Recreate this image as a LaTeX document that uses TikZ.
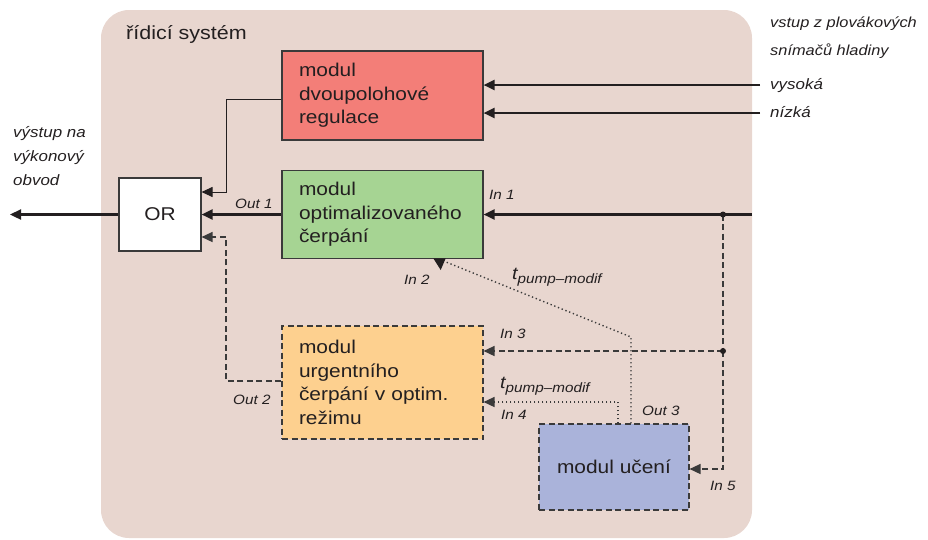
\documentclass[tikz,border=0pt]{standalone}
\usepackage{fontspec}
\setmainfont{Liberation Sans}[FakeStretch=1.13]
\usetikzlibrary{arrows.meta}

\definecolor{bgpanel}{HTML}{E8D6CF}
\definecolor{redmod}{HTML}{F37E78}
\definecolor{greenmod}{HTML}{A6D493}
\definecolor{orangemod}{HTML}{FDD08F}
\definecolor{bluemod}{HTML}{AAB3DA}
\definecolor{edge}{HTML}{3A3A3A}
\definecolor{ink}{HTML}{231F20}

\tikzset{
  modbox/.style={draw=edge, line width=1.1pt, minimum width=201pt, text width=167pt,
    inner xsep=17pt, inner ysep=0pt, align=left, text=ink,
    font=\fontsize{18.5}{23.5}\selectfont},
  dashbox/.style={dash pattern=on 6pt off 3.5pt},
  tipA/.tip={Triangle[length=11pt,width=10pt]},
  sigthick/.style={draw=ink, line width=2.3pt, -tipA},
  sigthin/.style={draw=ink, line width=1pt, -tipA},
  sigdash/.style={draw=edge, line width=1.4pt, dash pattern=on 6pt off 3.5pt, -tipA},
  sigdot/.style={draw=edge, line width=1.4pt, dash pattern=on 1.3pt off 2.7pt},
  lbl/.style={anchor=base west, inner sep=0pt, text=ink, font=\fontsize{13.5}{15}\selectfont\itshape},
  side/.style={anchor=base west, inner sep=0pt, text=ink, font=\fontsize{15}{18}\selectfont\itshape},
  junction/.style={circle, fill=ink, inner sep=0pt, minimum size=6pt},
}

\newcommand{\tpm}{{\fontsize{17.5}{17}\selectfont\itshape t}\raisebox{-4pt}{\fontsize{13.5}{13}\selectfont\itshape pump–modif}}

\begin{document}
\begin{tikzpicture}[x=1pt, y=-1pt]
  \useasboundingbox (0,0) rectangle (928,539);

  % panel of the control system
  \fill[bgpanel, rounded corners=28pt] (101,10) rectangle (752,538);
  \node[anchor=base west, inner sep=0pt, text=ink, font=\fontsize{19}{22}\selectfont]
    (title) at (126,39) {řídicí systém};

  % modules
  \node[modbox, fill=redmod, minimum height=89pt] (red) at (382.5,95.5)
    {modul\\dvoupolohové\\regulace};
  \node[modbox, fill=greenmod, minimum height=88pt] (green) at (382.5,214.5)
    {modul\\optimalizovaného\\čerpání};
  \node[modbox, dashbox, fill=orangemod, minimum height=113pt] (orange) at (382.5,382.5)
    {modul\\urgentního\\čerpání v optim.\\režimu};
  \node[draw=edge, line width=1.1pt, dashbox, fill=bluemod, minimum width=150pt,
    minimum height=86pt, text=ink, font=\fontsize{18.5}{23.5}\selectfont] (learn) at (614,467)
    {modul učení};
  \node[draw=edge, line width=1.1pt, fill=white, minimum width=82pt, minimum height=73pt,
    text=ink, font=\fontsize{18.5}{22}\selectfont] (or) at (160,214.5) {OR};

  % free ends and bends
  \coordinate (outL) at (10,214.5);
  \coordinate (hiR) at (760,85);
  \coordinate (loR) at (760,113);
  \coordinate (in1R) at (752,214.5);
  \coordinate (j1) at (723,214.5);
  \coordinate (j2) at (723,351);
  \coordinate (j3) at (723,469);
  \coordinate (rbend) at (226,99);
  \coordinate (obend) at (226,381);
  \coordinate (d1) at (631,337);
  \coordinate (d2) at (618,402);
  \coordinate (in2) at (446,262);

  % output of the system
  \draw[sigthick] (or.west) -- (outL);
  % level sensor inputs
  \draw[sigthick] (hiR) -- ([yshift=10.5pt]red.east);
  \draw[sigthick] (loR) -- ([yshift=-17.5pt]red.east);
  \draw[sigthick] (in1R) -- (green.east);
  % module outputs into OR
  \draw[sigthin] ([yshift=-3.5pt]red.west) -- (rbend) |- ([yshift=22.5pt]or.east);
  \draw[sigthick] (green.west) -- (or.east);
  \draw[sigdash] ([yshift=1.5pt]orange.west) -- (obend) |- ([yshift=-22.5pt]or.east);
  % branches of the sensor signal
  \draw[edge, line width=1.4pt, dash pattern=on 6pt off 3.5pt] (j1) -- (j2);
  \draw[sigdash] (j2) -- ([yshift=31.5pt]orange.east);
  \draw[sigdash] (j2) -- (j3) -- ([yshift=-2pt]learn.east);
  \node[junction] (dot1) at (j1) {};
  \node[junction] (dot2) at (j2) {};
  % learned pump time
  \draw[sigdot] ([xshift=17pt]learn.north) -- (d1) -- (in2);
  \fill[ink] (433.3,258.3) -- (445.7,258.3) -- (440.7,270) -- cycle;
  \draw[sigdot, -tipA] ([xshift=4pt]learn.north) -- (d2) -- ([yshift=-19.5pt]orange.east);

  % port labels
  \node[lbl] (lout1) at (235,208) {Out 1};
  \node[lbl] (lin1) at (489,199) {In 1};
  \node[lbl] (lin2) at (404,284) {In 2};
  \node[lbl] (lin3) at (500,338) {In 3};
  \node[lbl] (lin4) at (501,419) {In 4};
  \node[lbl] (lout3) at (642,415) {Out 3};
  \node[lbl] (lin5) at (710,490) {In 5};
  \node[lbl] (lout2) at (233,404) {Out 2};
  \node[anchor=base west, inner sep=0pt, text=ink] (tp1) at (512,279) {\tpm};
  \node[anchor=base west, inner sep=0pt, text=ink] (tp2) at (500,388) {\tpm};

  % outside texts
  \node[side, font=\fontsize{14.5}{18}\selectfont\itshape] (vs1) at (770,27) {vstup z plovákových};
  \node[side, font=\fontsize{14.5}{18}\selectfont\itshape] (vs2) at (770,55) {snímačů hladiny};
  \node[side] (vhi) at (770,89) {vysoká};
  \node[side] (vlo) at (770,117) {nízká};
  \node[side] (vy1) at (13,137) {výstup na};
  \node[side] (vy2) at (13,161) {výkonový};
  \node[side] (vy3) at (13,185) {obvod};
\end{tikzpicture}
\end{document}
